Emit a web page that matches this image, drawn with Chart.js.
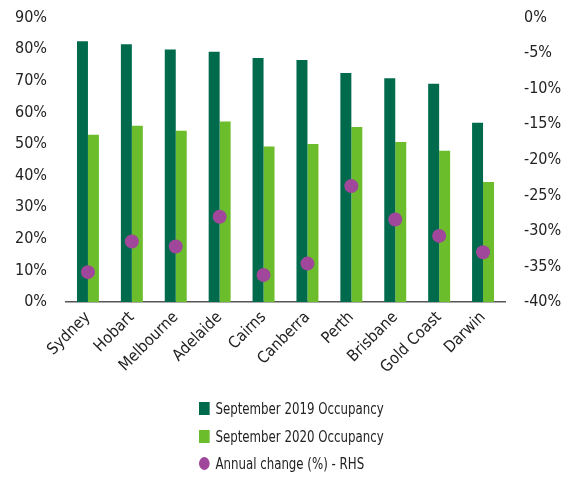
<!DOCTYPE html>
<html lang="en">
<head>
    <meta charset="utf-8">
    <title>Occupancy by city</title>
    <script src="https://cdn.jsdelivr.net/npm/chart.js@4.4.1/dist/chart.umd.min.js"></script>
    <style>
        body { margin: 0; background: #fff; }
        #wrap { position: relative; width: 576px; height: 479px; overflow: hidden; }
        #myChart { position: absolute; left: 0; top: -11px; }
        #legend {
            position: absolute; left: 199px; top: 395px;
            font-family: "DejaVu Sans Condensed", sans-serif;
            font-size: 16px; color: #222; line-height: 27.5px;
            transform: scaleX(0.82); transform-origin: left top;
            white-space: nowrap;
        }
        #legend .box { display: inline-block; width: 13px; height: 13px; margin-right: 7px; vertical-align: -1px; }
        #legend .dot { border-radius: 50%; }
    </style>
</head>
<body>
<div id="wrap">
    <canvas id="myChart" width="576" height="490"></canvas>
    <div id="legend"></div>
</div>

<script>
    const cities = ["Sydney", "Hobart", "Melbourne", "Adelaide", "Cairns", "Canberra", "Perth", "Brisbane", "Gold Coast", "Darwin"];
    const occ2019 = [82.5, 81.6, 79.9, 79.2, 77.2, 76.6, 72.5, 70.8, 69.1, 56.7];
    const occ2020 = [52.9, 55.8, 54.2, 57.1, 49.2, 50.0, 55.4, 50.6, 47.9, 38.0];
    const annualChange = [-35.8, -31.5, -32.2, -28.0, -36.2, -34.6, -23.7, -28.4, -30.7, -33.0];

    const font = { family: '"DejaVu Sans Condensed", sans-serif', size: 16 };

    let ctx = document.getElementById("myChart").getContext("2d");
    let myChart = new Chart(ctx, {
        type: 'bar',
        data: {
            labels: cities,
            datasets: [{
                type: 'line',
                label: "Annual change (%) - RHS",
                data: annualChange,
                yAxisID: 'y1',
                showLine: false,
                pointRadius: 7,
                pointHoverRadius: 7,
                pointBackgroundColor: '#a0469b',
                pointBorderWidth: 0,
                backgroundColor: '#a0469b',
                order: 0
            }, {
                label: "September 2019 Occupancy",
                data: occ2019,
                backgroundColor: '#006b4c',
                yAxisID: 'y',
                order: 1
            }, {
                label: "September 2020 Occupancy",
                data: occ2020,
                backgroundColor: '#6bbd2b',
                yAxisID: 'y',
                order: 1
            }]
        },
        options: {
            responsive: false,
            animation: false,
            datasets: { bar: { barPercentage: 1, categoryPercentage: 0.5 } },
            layout: { padding: { top: 0, bottom: 0 } },
            plugins: { legend: { display: false }, tooltip: { enabled: false } },
            scales: {
                x: {
                    grid: { display: false, drawTicks: false },
                    border: { color: '#555', width: 1.5 },
                    ticks: { font: font, color: '#222', maxRotation: 45, minRotation: 45, padding: 6 },
                    afterFit: (s) => { s.height = 177; }
                },
                y: {
                    position: 'left',
                    min: 0, max: 90,
                    grid: { display: false, drawTicks: false },
                    border: { display: false },
                    ticks: { stepSize: 10, font: font, color: '#222', padding: 19, callback: v => v + '%' },
                    afterFit: (s) => { s.width = 66; }
                },
                y1: {
                    position: 'right',
                    min: -40, max: 0,
                    grid: { display: false, drawTicks: false },
                    border: { display: false },
                    ticks: { stepSize: 5, font: font, color: '#222', padding: 19, callback: v => v + '%' },
                    afterFit: (s) => { s.width = 71; }
                }
            }
        }
    });

    // legend in the reference order: two bars, then the dots
    let legendOrder = [1, 2, 0];
    let legendHtml = "";
    legendOrder.forEach(i => {
        let ds = myChart.data.datasets[i];
        let dot = ds.type === 'line' ? ' dot' : '';
        legendHtml += '<div><span class="box' + dot + '" style="background:' + ds.backgroundColor + '"></span>' + ds.label + '</div>';
    });
    document.getElementById("legend").innerHTML = legendHtml;
</script>
</body>
</html>
